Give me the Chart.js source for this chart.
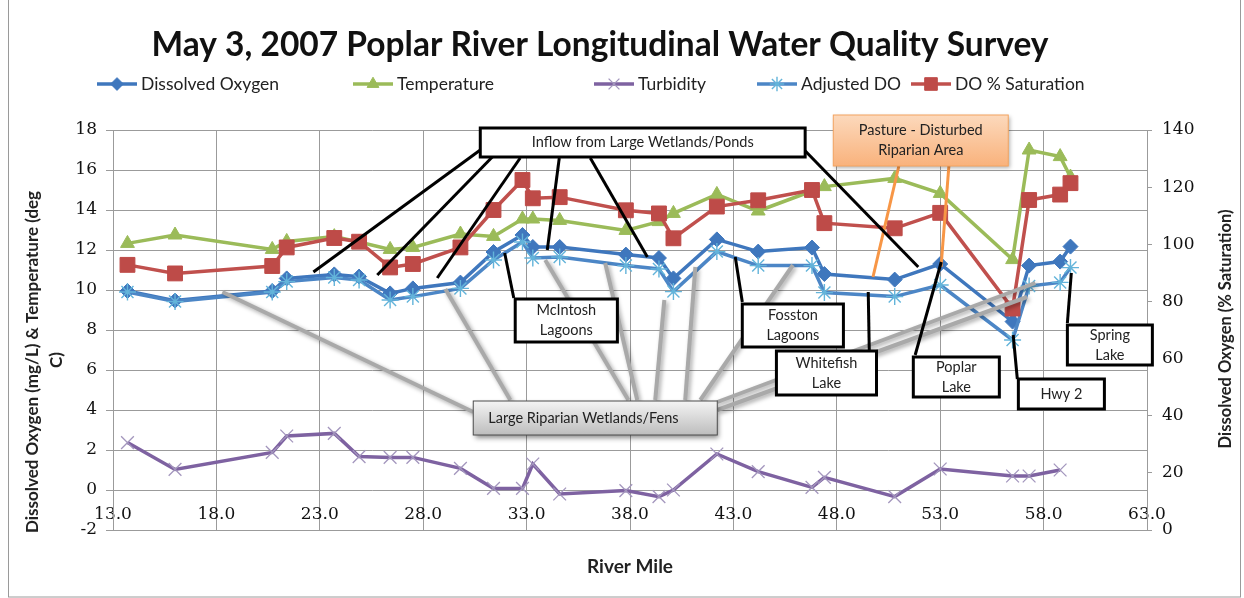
<!DOCTYPE html>
<html>
<head>
<meta charset="utf-8">
<script src="https://cdn.jsdelivr.net/npm/chart.js@4.4.0/dist/chart.umd.min.js"></script>
<style>
html,body{margin:0;padding:0;background:#ffffff;}
#wrap{width:1244px;height:598px;position:relative;}
</style>
</head>
<body>
<div id="wrap"><canvas id="c" width="1244" height="598"></canvas></div>
<script>
// ---------------- DATA ----------------
const riverMiles      = [13.7, 16.0, 20.7, 21.4, 23.7, 24.9, 26.4, 27.5, 29.8, 31.4, 32.8, 33.3, 34.6, 37.8, 39.4, 40.1, 42.2, 44.2, 46.8, 47.4, 50.8, 53.0, 56.5, 57.3, 58.8, 59.3];
const dissolvedOxygen = [9.95, 9.47, 9.95, 10.58, 10.78, 10.67, 9.83, 10.08, 10.37, 11.9, 12.75, 12.15, 12.15, 11.77, 11.6, 10.58, 12.53, 11.92, 12.12, 10.8, 10.52, 11.3, 8.42, 11.22, 11.42, 12.17];
const temperature     = [12.33, 12.75, 12.03, 12.43, 12.67, 12.4, 12.03, 12.13, 12.8, 12.68, 13.55, 13.55, 13.48, 12.98, 13.42, 13.83, 14.78, 13.95, 14.95, 15.17, 15.58, 14.83, 11.52, 17.0, 16.67, 15.65];
const turbidity       = [2.37, 1.03, 1.88, 2.7, 2.83, 1.67, 1.63, 1.63, 1.08, 0.08, 0.08, 1.3, -0.2, -0.03, -0.33, 0.0, 1.8, 0.92, 0.13, 0.63, -0.33, 1.05, 0.7, 0.7, 1.0, null];
const adjustedDO      = [9.9, 9.42, 9.9, 10.42, 10.62, 10.5, 9.5, 9.67, 10.08, 11.5, 12.4, 11.6, 11.65, 11.22, 11.05, 9.92, 11.92, 11.22, 11.22, 9.87, 9.67, 10.25, 7.5, 10.2, 10.38, 11.12];
const doSaturation    = [92.8, 89.8, 92.4, 98.9, 102.2, 100.9, 91.9, 93.1, 98.9, 112.0, 122.5, 116.1, 116.5, 111.9, 110.8, 102.1, 113.2, 115.4, 119.0, 107.4, 105.6, 111.0, 77.5, 115.5, 117.4, 121.4];

const xTickValues     = [13, 18, 23, 28, 33, 38, 43, 48, 53, 58, 63];
const leftTickValues  = [-2, 0, 2, 4, 6, 8, 10, 12, 14, 16, 18];
const rightTickValues = [0, 20, 40, 60, 80, 100, 120, 140];

const seriesNames = ['Dissolved Oxygen', 'Temperature', 'Turbidity', 'Adjusted DO', 'DO % Saturation'];
const chartTitle  = 'May 3, 2007 Poplar River Longitudinal Water Quality Survey';
const xTitle      = 'River Mile';
const leftTitle   = ['Dissolved Oxygen (mg/L) & Temperature (deg', 'C)'];
const rightTitle  = 'Dissolved Oxygen (% Saturation)';

// Callouts (anchored in data units: river mile, mg/L on left axis)
const calloutBoxes = [
  {kind:'gray',   text:['Large Riparian Wetlands/Fens'], x1:30.42, x2:42.22, y1:4.45, y2:2.75, align:'left'},
  {kind:'black',  text:['Inflow from Large Wetlands/Ponds'], x1:30.76, x2:46.47, y1:18.1, y2:16.65},
  {kind:'black',  text:['McIntosh','Lagoons'], x1:32.45, x2:37.39, y1:9.55, y2:7.4},
  {kind:'black',  text:['Fosston','Lagoons'], x1:43.43, x2:48.32, y1:9.3, y2:7.15},
  {kind:'black',  text:['Whitefish','Lake'], x1:45.08, x2:49.92, y1:6.95, y2:4.75},
  {kind:'black',  text:['Poplar','Lake'], x1:51.7, x2:55.86, y1:6.65, y2:4.65},
  {kind:'black',  text:['Hwy 2'], x1:56.78, x2:60.94, y1:5.55, y2:4.05},
  {kind:'black',  text:['Spring','Lake'], x1:59.15, x2:63.26, y1:8.25, y2:6.25},
  {kind:'orange', text:['Pasture - Disturbed','Riparian Area'], x1:47.83, x2:56.29, y1:18.75, y2:16.2}
];
const calloutLines = [
  // gray: Large Riparian Wetlands/Fens
  {kind:'gray', a:[18.29, 9.9], b:[30.42, 3.9]},
  {kind:'gray', a:[29.07, 10.05], b:[32.21, 4.5]},
  {kind:'gray', a:[33.9, 11.5], b:[37.92, 4.5]},
  {kind:'gray', a:[36.8, 11.35], b:[38.35, 4.5]},
  {kind:'gray', a:[39.66, 9.5], b:[39.22, 4.5]},
  {kind:'gray', a:[41.16, 11.15], b:[40.67, 4.5]},
  {kind:'gray', a:[45.88, 11.25], b:[41.4, 4.5]},
  {kind:'gray', a:[57.6, 10.35], b:[42.22, 4.4]},
  {kind:'gray', a:[57.2, 9.65], b:[42.22, 4.0]},
  // orange: pasture
  {kind:'orange', a:[51.0, 16.2], b:[49.75, 10.65]},
  {kind:'orange', a:[53.42, 16.2], b:[53.04, 11.15]},
  // black
  {kind:'black', a:[30.76, 17.0], b:[22.69, 10.9]},
  {kind:'black', a:[31.34, 16.65], b:[25.78, 10.75]},
  {kind:'black', a:[32.69, 16.6], b:[28.68, 10.6]},
  {kind:'black', a:[34.58, 16.6], b:[34.0, 12.0]},
  {kind:'black', a:[36.08, 16.6], b:[38.84, 11.65]},
  {kind:'black', a:[46.43, 17.0], b:[51.94, 11.15]},
  {kind:'black', a:[31.94, 11.85], b:[32.38, 9.6]},
  {kind:'black', a:[43.09, 11.65], b:[43.43, 9.4]},
  {kind:'black', a:[49.52, 9.9], b:[49.57, 7.0]},
  {kind:'black', a:[53.05, 11.4], b:[51.79, 6.75]},
  {kind:'black', a:[56.53, 7.75], b:[56.73, 5.55]},
  {kind:'black', a:[59.34, 10.85], b:[59.15, 8.35]}
];

// ---------------- HELPERS ----------------
const pts = (vals) => riverMiles.map((m, i) => ({x: m, y: vals[i]})).filter(p => p.y !== null);

const COLORS = {
  dissolvedOxygen: '#3F77BD',
  temperature: '#9BBB59',
  turbidity: '#7E62A1',
  adjustedDO: '#4C86C6',
  doSaturation: '#C0504D'
};

const datasets = [
  {label: seriesNames[0], data: pts(dissolvedOxygen), yAxisID:'y', order:5,
   borderColor: COLORS.dissolvedOxygen, borderWidth: 3.5, backgroundColor: COLORS.dissolvedOxygen,
   pointStyle:'rectRot', pointRadius:7.5, pointBackgroundColor: COLORS.dissolvedOxygen, pointBorderColor: COLORS.dissolvedOxygen, pointBorderWidth:1},
  {label: seriesNames[1], data: pts(temperature), yAxisID:'y', order:4,
   borderColor: COLORS.temperature, borderWidth: 3.5, backgroundColor: COLORS.temperature,
   pointStyle:'triangle', pointRadius:8, pointBackgroundColor: COLORS.temperature, pointBorderColor: COLORS.temperature, pointBorderWidth:1},
  {label: seriesNames[2], data: pts(turbidity), yAxisID:'y', order:3,
   borderColor: COLORS.turbidity, borderWidth: 3.5, backgroundColor: COLORS.turbidity,
   pointStyle:'crossRot', pointRadius:9, pointBackgroundColor: '#a396bd', pointBorderColor: '#a396bd', pointBorderWidth:1.3},
  {label: seriesNames[3], data: pts(adjustedDO), yAxisID:'y', order:2,
   borderColor: COLORS.adjustedDO, borderWidth: 3.5, backgroundColor: COLORS.adjustedDO,
   pointStyle:'star', pointRadius:8.5, pointBackgroundColor: '#63B4DA', pointBorderColor: '#63B4DA', pointBorderWidth:1.4},
  {label: seriesNames[4], data: pts(doSaturation), yAxisID:'y2', order:1,
   borderColor: COLORS.doSaturation, borderWidth: 3.5, backgroundColor: COLORS.doSaturation,
   pointStyle:'rect', pointRadius:10.5, pointBackgroundColor: '#BE4B48', pointBorderColor: '#BE4B48', pointBorderWidth:1}
];

// ---------------- PLUGIN: callouts, legend, axis titles, frame ----------------
const decor = {
  id: 'decor',
  afterDatasetsDraw(chart) {
    const ctx = chart.ctx, X = chart.scales.x, Y = chart.scales.y;
    const px = (m) => X.getPixelForValue(m), py = (v) => Y.getPixelForValue(v);
    const drawLines = (kind) => {
      calloutLines.filter(l => l.kind === kind).forEach(l => {
        ctx.save();
        if (kind === 'gray') {
          ctx.strokeStyle = '#a9a9a9'; ctx.lineWidth = 4;
          ctx.shadowColor = 'rgba(0,0,0,0.35)'; ctx.shadowBlur = 4; ctx.shadowOffsetX = 2; ctx.shadowOffsetY = 2;
        } else if (kind === 'orange') {
          ctx.strokeStyle = '#F79646'; ctx.lineWidth = 3;
        } else {
          ctx.strokeStyle = '#000000'; ctx.lineWidth = 3;
        }
        ctx.beginPath(); ctx.moveTo(px(l.a[0]), py(l.a[1])); ctx.lineTo(px(l.b[0]), py(l.b[1])); ctx.stroke();
        ctx.restore();
      });
    };
    const drawBoxes = (kind) => {
      calloutBoxes.filter(b => b.kind === kind).forEach(b => {
        const x1 = px(b.x1), x2 = px(b.x2), y1 = py(b.y1), y2 = py(b.y2);
        const w = x2 - x1, h = y2 - y1;
        ctx.save();
        if (kind === 'gray') {
          ctx.shadowColor = 'rgba(0,0,0,0.45)'; ctx.shadowBlur = 5; ctx.shadowOffsetX = 2; ctx.shadowOffsetY = 3;
          const g = ctx.createLinearGradient(0, y1, 0, y2);
          g.addColorStop(0, '#f4f4f4'); g.addColorStop(1, '#bdbdbd');
          ctx.fillStyle = g; ctx.fillRect(x1, y1, w, h);
          ctx.shadowColor = 'transparent';
          ctx.strokeStyle = '#4d4d4d'; ctx.lineWidth = 1; ctx.strokeRect(x1, y1, w, h);
        } else if (kind === 'orange') {
          ctx.shadowColor = 'rgba(0,0,0,0.3)'; ctx.shadowBlur = 4; ctx.shadowOffsetX = 2; ctx.shadowOffsetY = 2;
          const g = ctx.createLinearGradient(0, y1, 0, y2);
          g.addColorStop(0, '#FCD9BC'); g.addColorStop(1, '#F9B27C');
          ctx.fillStyle = g; ctx.fillRect(x1, y1, w, h);
          ctx.shadowColor = 'transparent';
          ctx.strokeStyle = '#F4A460'; ctx.lineWidth = 1; ctx.strokeRect(x1, y1, w, h);
        } else {
          ctx.fillStyle = '#ffffff'; ctx.fillRect(x1, y1, w, h);
          ctx.strokeStyle = '#000000'; ctx.lineWidth = 3; ctx.strokeRect(x1, y1, w, h);
        }
        ctx.fillStyle = '#222222';
        ctx.font = '14.5px Lato';
        ctx.textBaseline = 'middle';
        const n = b.text.length, lh = 20;
        const cy = (y1 + y2) / 2;
        b.text.forEach((t, i) => {
          const ty = cy + (i - (n - 1) / 2) * lh;
          if (b.align === 'left') { ctx.textAlign = 'left'; ctx.fillText(t, x1 + 15, ty); }
          else { ctx.textAlign = 'center'; ctx.fillText(t, (x1 + x2) / 2, ty); }
        });
        ctx.restore();
      });
    };
    drawLines('gray'); drawBoxes('gray');
    drawLines('orange');
    drawLines('black'); drawBoxes('black');
    drawBoxes('orange');
  },
  afterDraw(chart) {
    const ctx = chart.ctx;
    // legend (line + marker + label)
    const legendX = [97, 353, 594, 757, 911];
    const ly = 84;
    ctx.save();
    datasets.forEach((ds, i) => {
      const x = legendX[i];
      ctx.save();
      ctx.strokeStyle = ds.borderColor; ctx.lineWidth = 3.5;
      ctx.beginPath(); ctx.moveTo(x, ly); ctx.lineTo(x + 40, ly); ctx.stroke();
      ctx.fillStyle = ds.pointBackgroundColor; ctx.strokeStyle = ds.pointBorderColor; ctx.lineWidth = ds.pointBorderWidth;
      Chart.helpers.drawPoint(ctx, {pointStyle: ds.pointStyle, radius: ds.pointRadius * 0.85, rotation: 0, borderWidth: ds.pointBorderWidth}, x + 20, ly);
      ctx.restore();
      ctx.fillStyle = '#222222'; ctx.font = '17.5px Lato'; ctx.textAlign = 'left'; ctx.textBaseline = 'middle';
      ctx.fillText(ds.label, x + 44, ly);
    });
    ctx.restore();
    // y axis titles (rotated, reading bottom to top)
    ctx.save();
    ctx.fillStyle = '#222222'; ctx.font = 'bold 17px Lato'; ctx.textAlign = 'center'; ctx.textBaseline = 'middle';
    ctx.translate(33, 362); ctx.rotate(-Math.PI / 2); ctx.fillText(leftTitle[0], 0, 0);
    ctx.restore();
    ctx.save();
    ctx.fillStyle = '#222222'; ctx.font = 'bold 17px Lato'; ctx.textAlign = 'center'; ctx.textBaseline = 'middle';
    ctx.translate(57, 360); ctx.rotate(-Math.PI / 2); ctx.fillText(leftTitle[1], 0, 0);
    ctx.restore();
    ctx.save();
    ctx.fillStyle = '#222222'; ctx.font = 'bold 16.5px Lato'; ctx.textAlign = 'center'; ctx.textBaseline = 'middle';
    ctx.translate(1226, 329); ctx.rotate(-Math.PI / 2); ctx.fillText(rightTitle, 0, 0);
    ctx.restore();
    // chart frame
    ctx.save();
    ctx.strokeStyle = '#9a9a9a'; ctx.lineWidth = 1;
    ctx.strokeRect(8.5, -1, 1232, 598);
    ctx.restore();
  }
};

// ---------------- CHART ----------------
const gridColor = '#9b9b9b';
new Chart(document.getElementById('c'), {
  type: 'line',
  data: { datasets },
  plugins: [decor],
  options: {
    responsive: false,
    animation: false,
    events: [],
    layout: { padding: { left: 0, right: 44, top: 0, bottom: 0 } },
    elements: { line: { tension: 0 } },
    plugins: {
      legend: { display: false },
      tooltip: { enabled: false },
      title: {
        display: true, text: chartTitle, color: '#111111',
        font: { family: 'Lato', size: 33.5, weight: 'bold', lineHeight: 1.2 },
        padding: { top: 25, bottom: 64.8 }
      }
    },
    scales: {
      x: {
        type: 'linear', position: 'bottom', min: xTickValues[0], max: xTickValues[xTickValues.length - 1],
        afterBuildTicks: s => { s.ticks = xTickValues.map(v => ({value: v})); },
        afterFit: s => { s.height = 68; },
        grid: { color: gridColor, lineWidth: 1, drawTicks: false },
        border: { color: gridColor, width: 1 },
        ticks: { mirror: true, padding: 5, color: '#111111', font: { family: 'DejaVu Serif', size: 17 },
                 callback: v => Number(v).toFixed(1), autoSkip: false, maxRotation: 0 },
        title: { display: true, text: xTitle, color: '#222222',
                 font: { family: 'Lato', size: 19, weight: 'bold', lineHeight: 1.2 },
                 padding: { top: 0, bottom: 20 } }
      },
      y: {
        type: 'linear', position: 'left', min: leftTickValues[0], max: leftTickValues[leftTickValues.length - 1],
        afterBuildTicks: s => { s.ticks = leftTickValues.map(v => ({value: v})); },
        afterFit: s => { s.width = 113; },
        grid: { color: gridColor, lineWidth: 1, tickLength: 7 },
        border: { color: gridColor, width: 1 },
        ticks: { padding: 9, color: '#111111', font: { family: 'DejaVu Serif', size: 17 } }
      },
      y2: {
        type: 'linear', position: 'right', min: rightTickValues[0], max: rightTickValues[rightTickValues.length - 1],
        afterBuildTicks: s => { s.ticks = rightTickValues.map(v => ({value: v})); },
        afterFit: s => { s.width = 53; },
        grid: { drawOnChartArea: false, color: gridColor, tickLength: 5 },
        border: { color: gridColor, width: 1 },
        ticks: { padding: 10, color: '#111111', font: { family: 'DejaVu Serif', size: 17 } }
      }
    }
  }
});
</script>
</body>
</html>
